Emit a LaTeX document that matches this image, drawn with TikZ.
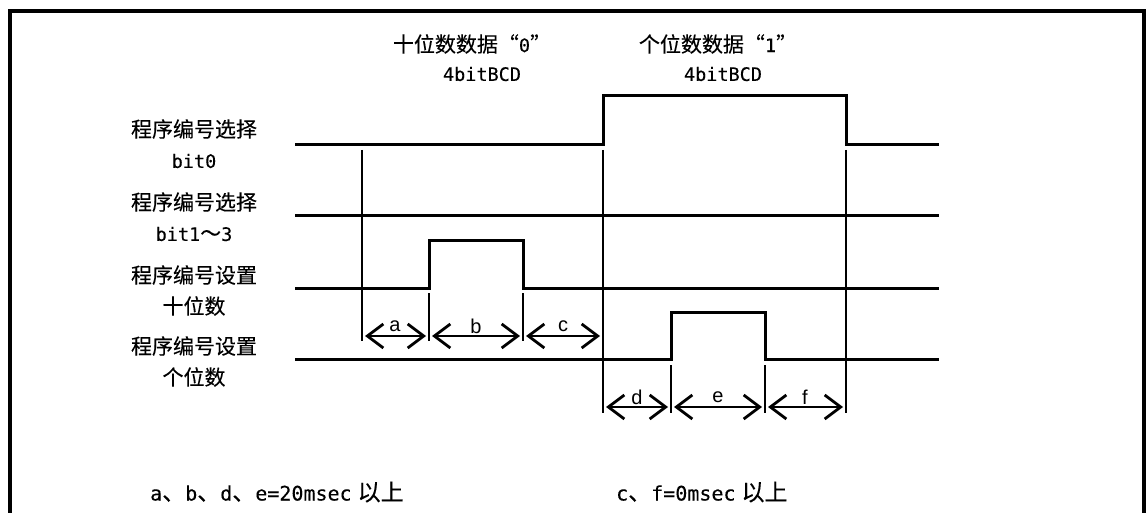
\documentclass[tikz,border=0pt]{standalone}
\usepackage{fontspec}
\setmainfont{Noto Sans CJK SC}[FakeBold=0.2]
\newfontfamily\latinsf{Liberation Sans}
\newfontfamily\monofam{DejaVu Sans Mono}[FakeBold=0.2]
\newcommand\mt[1]{{\monofam\fontsize{18.5}{22}\selectfont #1}}
\newcommand\mtb[1]{{\monofam\fontsize{20}{22}\selectfont #1}}
\usetikzlibrary{arrows.meta}
\begin{document}
\begin{tikzpicture}[x=1pt,y=-1pt,
  sig/.style={line width=3pt, line join=miter},
  guide/.style={line width=1.3pt},
  dimarrow/.style={line width=2.8pt, shorten <=3pt, shorten >=3pt,
    {Straight Barb[length=16pt,width=24pt]}-{Straight Barb[length=16pt,width=24pt]}},
  lbl/.style={font=\fontsize{21}{24}\selectfont, inner sep=0pt},
  note/.style={font=\fontsize{23}{26}\selectfont, inner sep=0pt},
  dl/.style={font=\latinsf\fontsize{20}{20}\selectfont, inner sep=0pt}
]
\useasboundingbox (0,0) rectangle (1148,513);
\fill[white] (0,0) rectangle (1148,513);
% frame
\draw[line width=4pt] (10,515) -- (10,11.5) -- (1144,11.5) -- (1144,515);

% row labels
\node[lbl] (l1a) at (194,129) {程序编号选择};
\node[lbl] (l1b) at (194,161) {\mt{bit0}};
\node[lbl] (l2a) at (194,202) {程序编号选择};
\node[lbl] (l2b) at (194,234) {\mt{bit1}～\mt{3}};
\node[lbl] (l3a) at (194,275) {程序编号设置};
\node[lbl] (l3b) at (194,306) {十位数};
\node[lbl] (l4a) at (194,346) {程序编号设置};
\node[lbl] (l4b) at (194,377) {个位数};

% top labels
\node[lbl] (t1a) at (472,44) {十位数数据“\mt{0}”};
\node[lbl] (t1b) at (482,74) {\mt{4bitBCD}};
\node[lbl] (t2a) at (718,44) {个位数数据“\mt{1}”};
\node[lbl] (t2b) at (723,74) {\mt{4bitBCD}};

% waveforms
\coordinate (r1s) at (295,145); \coordinate (r1u) at (603,145);
\coordinate (r1h) at (603,96);  \coordinate (r1g) at (846,96);
\coordinate (r1d) at (846,145); \coordinate (r1e) at (939,145);
\draw[sig] (r1s) -- (r1u) -- (r1h) -- (r1g) -- (r1d) -- (r1e);

\coordinate (r2s) at (295,216); \coordinate (r2e) at (939,216);
\draw[sig] (r2s) -- (r2e);

\coordinate (r3s) at (295,288); \coordinate (r3u) at (429,288);
\coordinate (r3h) at (429,240); \coordinate (r3g) at (523,240);
\coordinate (r3d) at (523,288); \coordinate (r3e) at (939,288);
\draw[sig] (r3s) -- (r3u) -- (r3h) -- (r3g) -- (r3d) -- (r3e);

\coordinate (r4s) at (295,359); \coordinate (r4u) at (671,359);
\coordinate (r4h) at (671,312); \coordinate (r4g) at (765,312);
\coordinate (r4d) at (765,359); \coordinate (r4e) at (939,359);
\draw[sig] (r4s) -- (r4u) -- (r4h) -- (r4g) -- (r4d) -- (r4e);

% guide lines
\coordinate (g1t) at (362,150); \coordinate (g1b) at (362,341);
\coordinate (g2t) at (603,150); \coordinate (g2b) at (603,413);
\coordinate (g3t) at (846,150); \coordinate (g3b) at (846,413);
\coordinate (g4t) at (429,293); \coordinate (g4b) at (429,341);
\coordinate (g5t) at (523,293); \coordinate (g5b) at (523,341);
\coordinate (g6t) at (671,365); \coordinate (g6b) at (671,413);
\coordinate (g7t) at (765,365); \coordinate (g7b) at (765,413);
\foreach \g in {1,...,7} {\draw[guide] (g\g t) -- (g\g b);}

% dimension arrows
\coordinate (da0) at (362,336); \coordinate (da1) at (429,336);
\coordinate (da2) at (523,336); \coordinate (da3) at (603,336);
\coordinate (dd0) at (603,407); \coordinate (dd1) at (671,407);
\coordinate (dd2) at (765,407); \coordinate (dd3) at (846,407);
\draw[dimarrow] (da0) -- (da1);
\draw[dimarrow] (da1) -- (da2);
\draw[dimarrow] (da2) -- (da3);
\draw[dimarrow] (dd0) -- (dd1);
\draw[dimarrow] (dd1) -- (dd2);
\draw[dimarrow] (dd2) -- (dd3);
\node[dl] (la) at (395,326) {a};
\node[dl] (lb) at (476,326) {b};
\node[dl] (lc) at (563,326) {c};
\node[dl] (ld) at (637,397) {d};
\node[dl] (le) at (718,397) {e};
\node[dl] (lf) at (805,397) {f};

% bottom notes
\node[note, anchor=west] (n1) at (150,492) {\mtb{a}、\mtb{b}、\mtb{d}、\mtb{e=20msec}\hspace{6pt}以上};
\node[note, anchor=west] (n2) at (616,492) {\mtb{c}、\mtb{f=0msec}\hspace{6pt}以上};
\end{tikzpicture}
\end{document}
